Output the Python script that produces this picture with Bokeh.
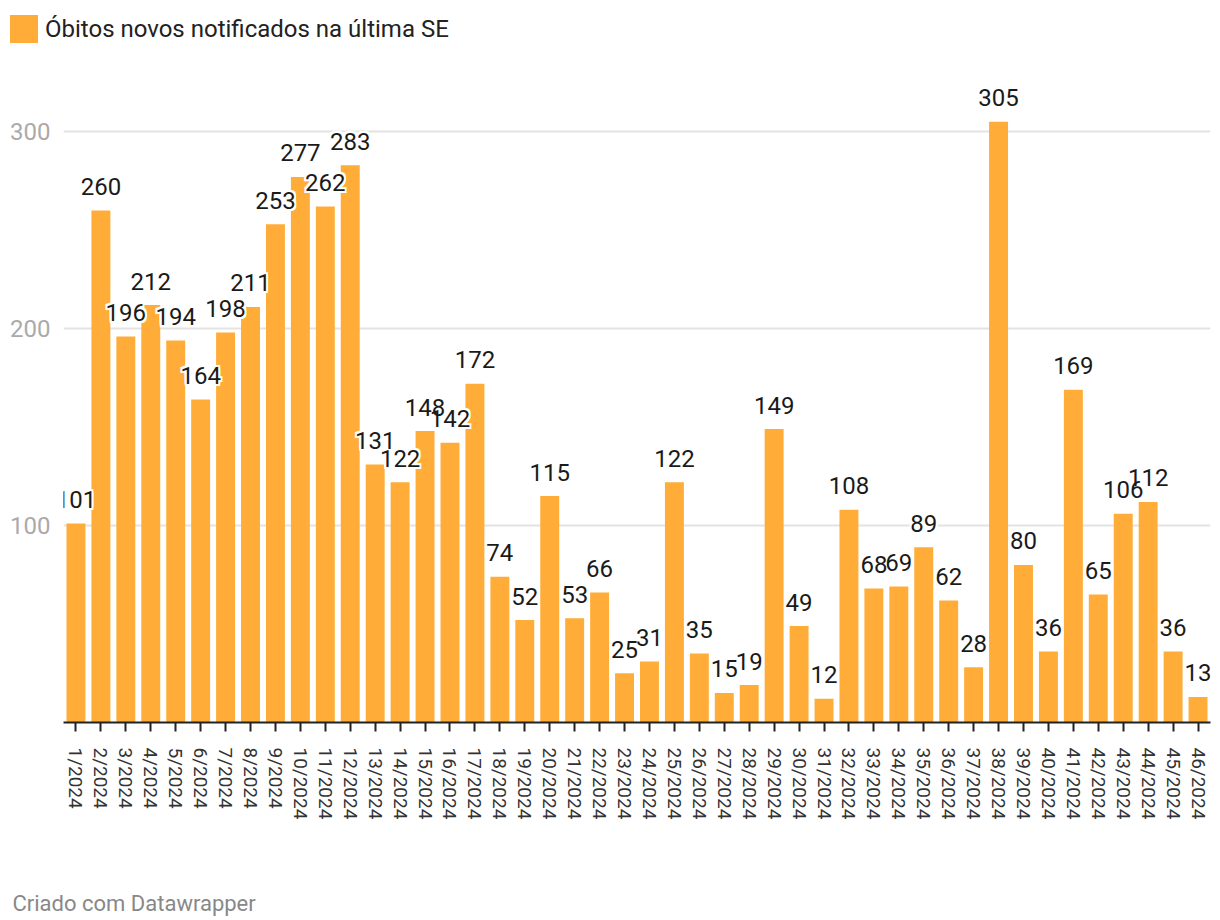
from bokeh.plotting import figure
from bokeh.layouts import column
from bokeh.models import (ColumnDataSource, FactorRange, Range1d, FixedTicker,
                          Legend, LegendItem, Label)
from bokeh.core.properties import value
from bokeh.embed import file_html
from bokeh.resources import INLINE

weeks = [f"{i}/2024" for i in range(1, 47)]
deaths = [101, 260, 196, 212, 194, 164, 198, 211, 253, 277, 262, 283, 131, 122, 148,
          142, 172, 74, 52, 115, 53, 66, 25, 31, 122, 35, 15, 19, 149, 49, 12, 108,
          68, 69, 89, 62, 28, 305, 80, 36, 169, 65, 106, 112, 36, 13]
y_ticks = [100, 200, 300]
legend_label = "Óbitos novos notificados na última SE"
footer_text = "Criado com Datawrapper"

BAR = "#FFAD38"
FONT = "Roboto"
W = 1220


def blank(height):
    f = figure(width=W, height=height, x_range=Range1d(0, W), y_range=Range1d(0, height),
               output_backend="svg", toolbar_location=None, x_axis_type=None,
               y_axis_type=None, min_border=0, outline_line_color=None,
               background_fill_color="white", border_fill_color="white")
    f.grid.visible = False
    try:
        f.frame_align = False
    except Exception:
        pass
    return f


# ---- header with legend ----
head = blank(60)
# zero-size swatch renderer, only used to draw the legend key
swatch = head.vbar(x=[0], top=[0], width=0, color=BAR, line_color=None)
legend = Legend(items=[LegendItem(label=legend_label, renderers=[swatch], index=0)],
                location=(6, 14), orientation="horizontal",
                glyph_width=35, glyph_height=35, label_standoff=4,
                label_text_font=FONT, label_text_font_size="24px",
                label_text_color="#222222", border_line_color=None,
                background_fill_alpha=0, padding=0, margin=0, spacing=0,
                label_height=35)
head.add_layout(legend)

# ---- main chart ----
src = ColumnDataSource(dict(week=weeks, deaths=deaths, lbl=[str(v) for v in deaths]))

p = figure(width=W, height=800, x_range=FactorRange(*weeks, range_padding=0),
           y_range=Range1d(0, 326), output_backend="svg", toolbar_location=None,
           min_border_left=63, min_border_right=10, min_border_top=20,
           min_border_bottom=138, background_fill_color="white",
           border_fill_color="white", outline_line_color=None)

p.vbar(x="week", top="deaths", width=0.76, source=src, color=BAR, line_color=None)

LBL_OFF = -24
offs = [(-2, 0), (2, 0), (0, -2), (0, 2), (-2, -2), (2, -2), (-2, 2), (2, 2)]
for dx, dy in offs:
    p.text(x="week", y="deaths", text="lbl", source=src, x_offset=dx, y_offset=LBL_OFF + dy,
           text_align="center", text_baseline="alphabetic", text_font=value(FONT),
           text_font_size="24px", text_color="white")
p.text(x="week", y="deaths", text="lbl", source=src, y_offset=LBL_OFF,
       text_align="center", text_baseline="alphabetic", text_font=value(FONT),
       text_font_size="24px", text_color="#1a1a1a")

xa = p.xaxis[0]
xa.axis_line_color = "#222222"
xa.axis_line_width = 2
xa.major_tick_out = 9
xa.major_tick_in = 0
xa.major_tick_line_color = "#222222"
xa.major_tick_line_width = 2
xa.minor_tick_line_color = None
xa.major_label_orientation = "vertical"
xa.major_label_standoff = 16
xa.major_label_text_font = FONT
xa.major_label_text_font_size = "19px"
xa.major_label_text_color = "#333333"
xa.group_text_font_size = "0px"

ya = p.yaxis[0]
ya.ticker = FixedTicker(ticks=y_ticks)
ya.axis_line_color = None
ya.major_tick_line_color = None
ya.minor_tick_line_color = None
ya.major_tick_out = 0
ya.major_label_standoff = 13
ya.major_label_text_font = FONT
ya.major_label_text_font_size = "24px"
ya.major_label_text_color = "#aaaaaa"

p.xgrid.grid_line_color = None
p.ygrid.ticker = FixedTicker(ticks=y_ticks)
p.ygrid.grid_line_color = "#e3e3e3"
p.ygrid.grid_line_width = 2

# ---- footer ----
foot = blank(60)
foot.add_layout(Label(x=12, y=17, x_units="screen", y_units="screen", text=footer_text,
                      text_font=FONT, text_font_size="22px", text_color="#888888",
                      text_baseline="alphabetic"))

layout = column(head, p, foot, spacing=0)
open("out.html", "w").write(file_html(layout, INLINE))
